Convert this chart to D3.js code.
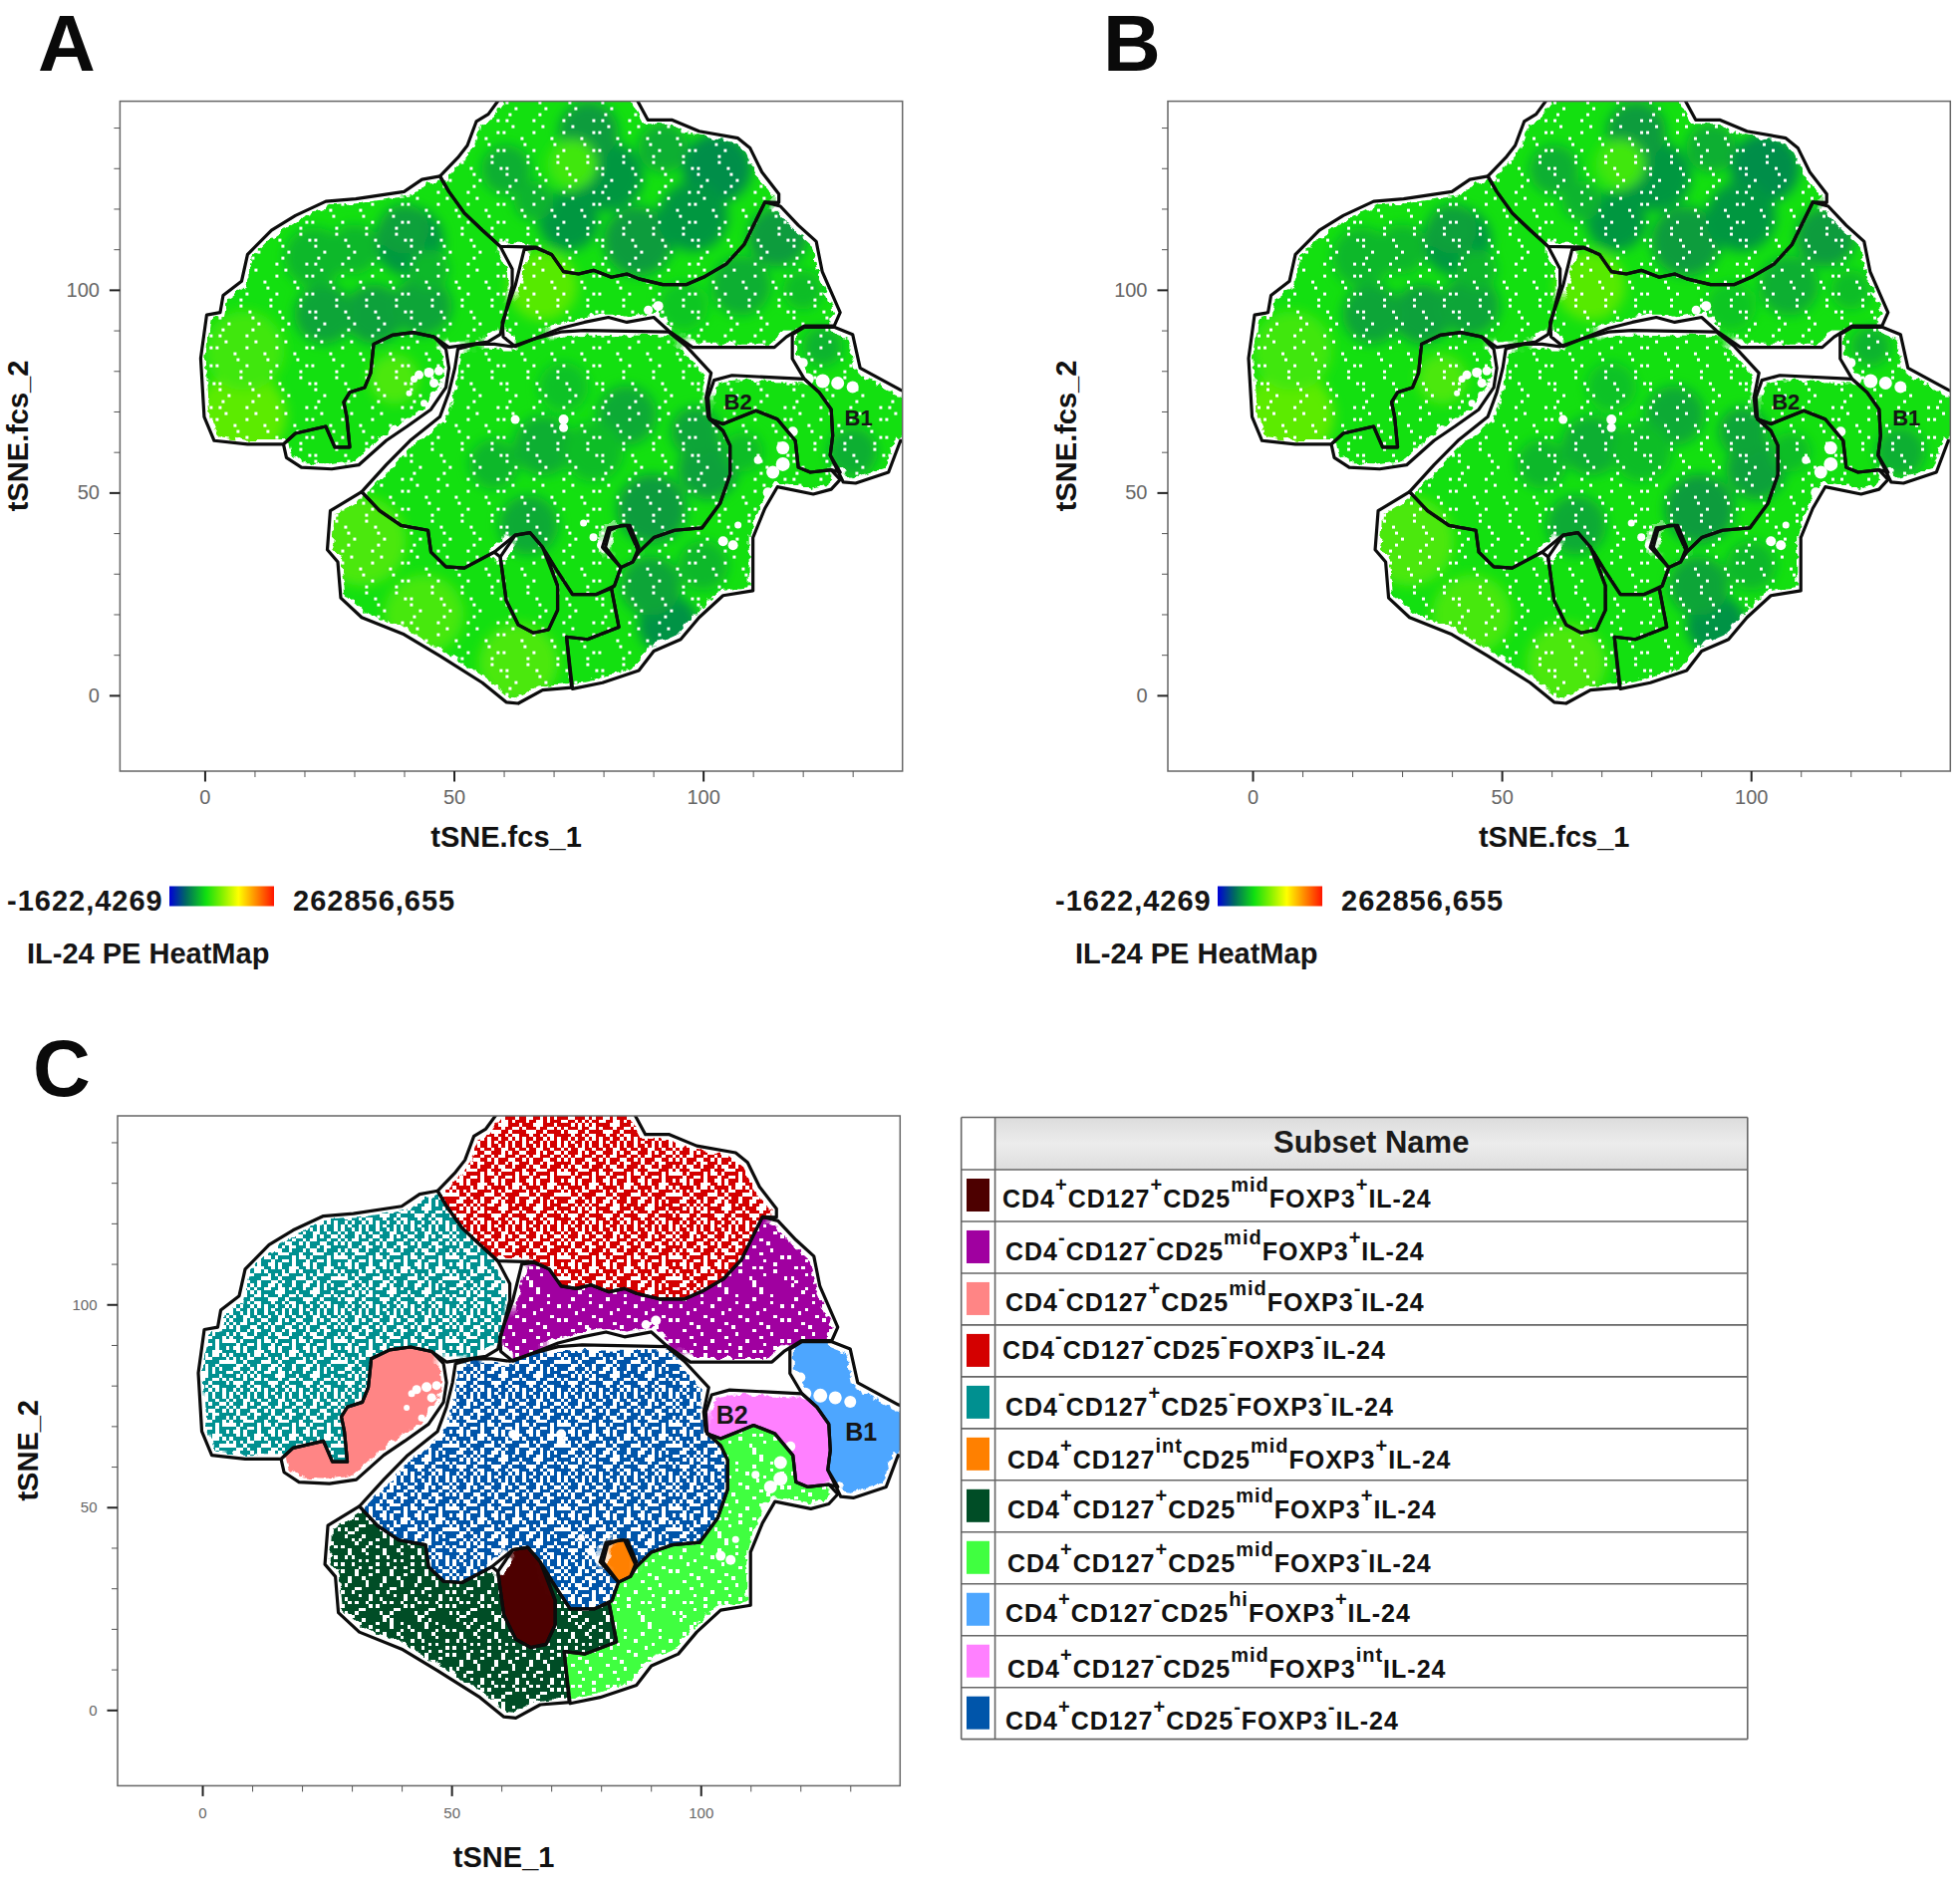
<!DOCTYPE html>
<html>
<head>
<meta charset="utf-8">
<script src="https://d3js.org/d3.v7.min.js"></script>
<style>
  html, body { margin: 0; padding: 0; background: #fff; }
  text { font-family: "Liberation Sans", Arial, sans-serif; }
</style>
</head>
<body>
<svg id="target" width="1967" height="1892"></svg>
<script>
// gate outlines, tSNE units
var gateRed = [[47.2,128],[50.8,132.6],[52.7,135.6],[54.5,141.5],[56.9,143.3],[60,148.5],[86,148.5],[88.9,141.9],[93.7,141.9],[99.2,139.1],[107,137.4],[109.4,135],[111.8,129],[115.2,123.6],[115.2,121.5],[112.4,121.6],[110.6,117.1],[108.2,111.1],[104.6,106.3],[100.4,103.3],[96.7,101.3],[91.9,101.3],[87.1,102.7],[84.7,103.9],[81.6,103.1],[78,104.8],[75,103.9],[72,104.5],[69.6,108.7],[66.5,110.5],[59.3,110.7],[55.7,114.7],[52.1,118.9],[49,124.2]];
var gatePurple = [[64.1,109.9],[66.5,110.3],[69.6,108.7],[72,104.5],[75,103.9],[78,104.8],[81.6,103.1],[84.7,103.9],[87.1,102.7],[91.9,101.3],[96.7,101.3],[100.4,103.3],[104.6,106.3],[108.2,111.1],[110.6,117.1],[112.4,121.6],[115.5,120.6],[119.1,115.9],[122.7,111.9],[123.9,104.5],[127.5,94.4],[126.3,91.1],[120.3,91.1],[116.7,88.4],[114.3,85.8],[97.9,85.8],[93.1,89.9],[90.1,93.2],[84.7,92],[81,93.2],[76.2,92],[71.4,90.5],[65.9,87.8],[62.3,86],[59.9,88.4],[59.7,92],[62.3,101]];
var gateTeal = [[47.2,128],[43.6,127.2],[40,124.2],[30.3,122.4],[24.3,121.8],[18.2,118.3],[13.4,114.7],[8.6,108.7],[7.4,102.1],[3.7,98.6],[3.1,94.4],[0.4,93.8],[-0.8,83.1],[-0.1,68.7],[1.9,62.8],[8.6,61.9],[15.8,61.9],[18.2,64.6],[24.3,66.3],[26.1,61.2],[29.1,61.2],[28.5,68.7],[27.9,72.3],[29.1,74.7],[32.1,75.9],[33.3,79.5],[33.9,86.6],[37.6,88.8],[41.8,89.5],[46,88.4],[49,85.8],[56.9,87.2],[59.3,89],[61.7,101],[61.7,105.1],[59.3,110.7],[55.7,114.7],[52.1,118.9],[49,124.2]];
var gateSalmon = [[33.9,86.6],[37.6,88.8],[41.8,89.5],[46,88.4],[48.4,85.4],[49,80.7],[48.4,75.9],[45.4,70.5],[40.6,66.3],[36.4,62.8],[30.9,56.8],[25.5,55.8],[19.4,56.2],[16.4,58.6],[15.8,61.9],[18.2,64.6],[24.3,66.3],[26.1,61.2],[29.1,61.2],[28.5,68.7],[27.9,72.3],[29.1,74.7],[32.1,75.9],[33.3,79.5]];
var gateBlue = [[50.8,85.4],[54.5,86.6],[58.1,86.6],[61.7,86],[65.9,87.8],[71.4,89.6],[76.2,90],[93.1,89.6],[96.7,86],[101.6,79.5],[100.6,73.5],[101,68.7],[104,65.2],[105.4,61.6],[105.4,54.4],[103.4,47.3],[99.8,41.3],[94.3,40.7],[90.1,38.9],[87.1,35.3],[84.7,41.9],[81,41.3],[79.8,36.5],[83.5,31.5],[82.2,27],[78.6,24.9],[73.8,24.9],[70.8,30.5],[67.8,36.5],[65.3,40.1],[62.3,39.5],[58.1,35.3],[52.1,31.4],[48.4,31.7],[45.4,35.3],[44.8,40.7],[39.4,41.9],[35.1,45.5],[31.5,50.2],[36.4,56.8],[41.2,62.8],[47.2,68.7],[49,74.7],[50.2,80.7]];
var gateOrange = [[83.5,41.9],[85.3,41.9],[87.1,36.5],[85.9,32.9],[83.5,31.5],[80.4,36.5],[81.3,40.7]];
var gateMaroon = [[65.3,40.1],[67.8,36.5],[70.8,27],[70.8,21],[69,16.2],[65.9,15.4],[62.9,17.4],[60.5,23.4],[59.3,34.1],[62.3,39.5]];
var gateDarkGreen = [[31.5,50.2],[35.1,45.5],[39.4,41.9],[44.8,40.7],[45.4,35.3],[48.4,31.7],[52.1,31.4],[58.1,35.3],[59.3,34.1],[60.5,23.4],[62.9,17.4],[65.9,15.4],[69,16.2],[70.8,21],[70.8,27],[68.4,35.3],[70.8,30.5],[73.8,24.9],[78.6,24.9],[81.6,26.4],[83.1,16.8],[76.8,13.8],[72.6,14.4],[73.6,1.9],[67.8,1.3],[62.9,-2],[60.5,-1.7],[55.7,3.1],[47.2,9.7],[40,15],[31.5,19.2],[27.3,24],[26.7,32.9],[24.6,35.9],[25.2,45.5]];
var gateLightGreen = [[81.6,26.4],[82.2,27],[83.5,31.5],[85.9,32.9],[87.1,35.3],[90.1,38.9],[94.3,40.7],[99.8,41.3],[103.4,47.3],[105.4,54.4],[105.4,61.6],[104,65.2],[101.3,68.1],[104,66.9],[107.6,68.7],[110.6,70.2],[114.9,68.1],[118.5,62.8],[119.1,56.2],[121.5,55],[125.7,55.6],[127.5,53.2],[125.7,50.8],[122.1,49.6],[114.9,51.4],[112.4,46.1],[110,38.9],[110,25.8],[104,24.6],[99.2,19.2],[95.5,13.8],[90.1,10.9],[87.1,6.1],[79.8,3.1],[73.8,1.6],[72.6,14.4],[76.8,13.8],[83.1,16.8]];
var gatePink = [[101,73.5],[102.2,77.7],[105.8,78.9],[120.3,78],[123.3,74.7],[125.7,70.5],[126,64],[125.5,59.2],[127.5,55],[125.7,55.6],[121.5,55],[119.1,56.2],[118.5,62.8],[114.9,68.1],[110.6,70.2],[107.6,68.7],[104,66.9],[101.3,68.1]];
var gateSky = [[117.9,89],[120.3,90.8],[126.3,90.8],[130,89],[131.5,80.7],[139.6,75.3],[144,73],[144,61],[139.6,62.8],[137.2,55],[130.6,52.3],[128.1,52.6],[125.5,59.2],[126,64],[125.7,70.5],[123.3,74.7],[120.3,78],[117.9,83]];

// table rows, top to bottom: name / superscript pairs
var subsetNames = [
  ['CD4','+','CD127','+','CD25','mid','FOXP3','+','IL-24'],
  ['CD4','-','CD127','-','CD25','mid','FOXP3','+','IL-24'],
  ['CD4','-','CD127','+','CD25','mid','FOXP3','-','IL-24'],
  ['CD4','-','CD127','-','CD25','-','FOXP3','-','IL-24'],
  ['CD4','-','CD127','+','CD25','-','FOXP3','-','IL-24'],
  ['CD4','+','CD127','int','CD25','mid','FOXP3','+','IL-24'],
  ['CD4','+','CD127','+','CD25','mid','FOXP3','+','IL-24'],
  ['CD4','+','CD127','+','CD25','mid','FOXP3','-','IL-24'],
  ['CD4','+','CD127','-','CD25','hi','FOXP3','+','IL-24'],
  ['CD4','+','CD127','-','CD25','mid','FOXP3','int','IL-24'],
  ['CD4','+','CD127','+','CD25','-','FOXP3','-','IL-24']
];
var subsetColors = ['#4d0000','#a000a0','#ff8585','#d40000','#009090','#ff8000','#004d26','#40ff40','#4da6ff','#ff80ff','#0055aa'];
var subsetGates = [gateMaroon, gatePurple, gateSalmon, gateRed, gateTeal, gateOrange, gateDarkGreen, gateLightGreen, gateSky, gatePink, gateBlue];
var subsetSpeckle = [0, 1, 0, 4, 4, 0, 2, 1, 0, 0, 4]; // how many digits of the tile count as empty

var rowTextX = [1006, 1009, 1009, 1006, 1009, 1011, 1011, 1011, 1009, 1011, 1009];
var rowTextLift = [13.5, 12.7, 13.5, 17.8, 12.7, 11.4, 13.5, 11.9, 14, 10.2, 9.7];

var xMajor = [0, 50, 100];
var xMinor = [10, 20, 30, 40, 60, 70, 80, 90, 110, 120, 130];
var yMajor = [0, 50, 100];
var yMinor = [10, 20, 30, 40, 60, 70, 80, 90, 110, 120, 130, 140];

// IL-24 heat map: legend and the patches seen on the plot (x, y, radius, value)
var heatMin = -1622.4269;
var heatMax = 262856.655;
var heatMinLabel = '-1622,4269';
var heatMaxLabel = '262856,655';
var heatStops = [0, 0.16, 0.35, 0.5, 0.66, 0.82, 1];
var heatColors = ['#0000d8','#006a60','#10e010','#80f000','#ffff00','#ff9000','#ff1500'];
var heatBase = 92000;
var heatPatches = [
  [81,128,7,60000],[77,139,6,62000],[102.8,130,7,56000],[73,117,6,60000],[87,112,7,62000],[98,118,7,60000],[60.5,129.6,5,70000],[92,135,5,70000],[66,122,4,72000],
  [41,112,7,60000],[34,94,6,64000],[24,94,6,66000],[40,115,5,64000],[43.6,96,6,66000],[22,108,6,74000],[30,110,5,74000],[45,105,4,74000],
  [115,113,6,62000],[107.6,101,6,70000],[96,96,5,80000],[120,100,4,76000],
  [84.7,69,6,68000],[68,61.6,6,70000],[101,55.6,6,64000],[89.7,46,7,62000],[65,42,6,68000],[98.5,65,5,66000],[58,57,5,74000],[78,60,6,76000],[72,76,5,78000],
  [93,17.4,6,58000],[89.5,27,6,66000],[100,32,5,74000],[108,60,4,76000],[130,60,5,70000],[124,86,4,72000],
  [7.4,69,9,118000],[31.5,38,9,112000],[63,8,8,112000],[67.8,101,7,116000],[73.8,131,5,108000],[8,85,8,108000],[44,20,8,110000],[38,78,5,112000]
];
// white holes in the data (x, y, radius)
var holes = [
  [43,79,0.9],[45,79.6,1],[47,80,0.9],[49,79,0.9],[42,78,0.7],[46,77,0.9],[44,72,0.7],[46,74,0.8],[41,74.5,0.6],
  [62.3,68,0.9],[72,68,1],[72,66,0.9],[76,42.5,0.7],[78,39,0.8],[79.5,37,0.8],[104,38,1],[106,37,1],[107,42,0.7],
  [121,78,1.2],[124,77.5,1.4],[127,77,1.3],[130,76,1.2],[116,61,1.3],[116,57,1.4],[114,55,1.3],[113,50,1],[118,65,1],
  [91,96,1],[89,95,0.9],[120,82,1],[111,58,0.8]
];

var labelsAB = [['B2',107,72.5],['B1',131.2,68.5]];
var labelsC = [['B2',106.3,72.6],['B1',132.2,68.3]];

// speckle tile, one digit per cell
var tile = [
  '70394816258307149625830471926358',
  '25816093471285036194728503619482',
  '94360728159463027581946302758194',
  '18572940361857294036185729403618',
  '63029518476302951847630295184763',
  '47185360297418536029741853602974',
  '80916427350891642735089164273508',
  '35274091863527409186352740918635',
  '19608352741960835274196083527419',
  '72453186097245318609724531860972',
  '06841729530684172953068417295306',
  '53920674185392067418539206741853',
  '28176403952817640395281764039528',
  '64095381276409538127640953812764',
  '91532760849153276084915327608491',
  '37860129453786012945378601294537',
  '02718956340271895634027189563402',
  '86345027198634502719863450271986',
  '41293678054129367805412936780541',
  '75060841327506084132750608413275',
  '19487352061948735206194873520619',
  '52639014785263901478526390147852',
  '30871465923087146592308714659230',
  '84015297368401529736840152973684'
];

var cell = 3.5;
var panelW = 785.3;
var panelH = 672.4;

var svg = d3.select('#target');
var defs = svg.append('defs');

// frayed inner edge of the population
var fray = defs.append('filter').attr('id', 'fray')
  .attr('x', '-5%').attr('y', '-5%').attr('width', '110%').attr('height', '110%');
fray.append('feMorphology').attr('in', 'SourceGraphic').attr('operator', 'erode').attr('radius', 5).attr('result', 'thin');
fray.append('feTurbulence').attr('type', 'fractalNoise').attr('baseFrequency', 0.13).attr('numOctaves', 2).attr('seed', 4).attr('result', 'noise');
fray.append('feDisplacementMap').attr('in', 'thin').attr('in2', 'noise').attr('scale', 9).attr('xChannelSelector', 'R').attr('yChannelSelector', 'G');

defs.append('filter').attr('id', 'soft')
  .attr('x', '-60%').attr('y', '-60%').attr('width', '220%').attr('height', '220%')
  .append('feGaussianBlur').attr('stdDeviation', 6);

// one pattern per speckle level
[1, 2, 4].forEach(function (level) {
  var cells = [];
  tile.forEach(function (row, r) {
    row.split('').forEach(function (ch, c) {
      if (+ch < level) cells.push([c, r]);
    });
  });
  defs.append('pattern').attr('id', 'speckle' + level)
    .attr('patternUnits', 'userSpaceOnUse')
    .attr('width', tile[0].length * cell).attr('height', tile.length * cell)
    .selectAll('rect').data(cells).join('rect')
    .attr('x', d => d[0] * cell).attr('y', d => d[1] * cell)
    .attr('width', cell).attr('height', cell)
    .attr('fill', '#fff').attr('shape-rendering', 'crispEdges');
});

// sparse white specks for the heat map
var sparse = [];
tile.forEach(function (row, r) {
  row.split('').forEach(function (ch, c) {
    if (ch === '0' && r % 2 === 0) sparse.push([c, r]);
  });
});
defs.append('pattern').attr('id', 'heatSpeckle')
  .attr('patternUnits', 'userSpaceOnUse')
  .attr('width', tile[0].length * 3).attr('height', tile.length * 3)
  .selectAll('rect').data(sparse).join('rect')
  .attr('x', d => d[0] * 3).attr('y', d => d[1] * 3)
  .attr('width', 3).attr('height', 3).attr('fill', '#fff').attr('shape-rendering', 'crispEdges');

var header = defs.append('linearGradient').attr('id', 'headerFill').attr('x1', 0).attr('x2', 0).attr('y1', 0).attr('y2', 1);
header.append('stop').attr('offset', 0).attr('stop-color', '#dcdcdc');
header.append('stop').attr('offset', 0.5).attr('stop-color', '#ececec');
header.append('stop').attr('offset', 1).attr('stop-color', '#dedede');

var heatT = d3.scaleLinear().domain([heatMin, heatMax]).range([0, 1]);
var heatColor = d3.scaleLinear().domain(heatStops).range(heatColors);

var legend = defs.append('linearGradient').attr('id', 'heatLegend').attr('x1', 0).attr('x2', 1).attr('y1', 0).attr('y2', 0);
heatStops.forEach(function (s, i) {
  legend.append('stop').attr('offset', s).attr('stop-color', heatColors[i]);
});

function draw_panel(id, left, top, opts) {
  var mapX = d3.scaleLinear().domain([-17, 140]).range([0, panelW]);
  var mapY = d3.scaleLinear().domain([-18.7, 146.5]).range([panelH, 0]);
  var line = d3.line().x(d => mapX(d[0])).y(d => mapY(d[1])).curve(d3.curveLinearClosed);

  var g = svg.append('g').attr('transform', `translate(${left}, ${top})`);

  defs.append('clipPath').attr('id', id + '-clip')
    .append('rect').attr('width', panelW).attr('height', panelH);

  var mask = defs.append('mask').attr('id', id + '-mask')
    .attr('maskUnits', 'userSpaceOnUse')
    .attr('x', -20).attr('y', -20).attr('width', panelW + 60).attr('height', panelH + 60);
  mask.append('g').attr('filter', 'url(#fray)')
    .selectAll('path').data(subsetGates).join('path')
    .attr('d', line).attr('fill', '#fff').attr('stroke', '#fff').attr('stroke-width', 2);

  var plot = g.append('g').attr('clip-path', `url(#${id}-clip)`);
  var body = plot.append('g').attr('mask', `url(#${id}-mask)`);

  if (opts.heat) {
    body.append('rect').attr('width', panelW).attr('height', panelH).attr('fill', heatColor(heatT(heatBase)));
    body.append('g').attr('filter', 'url(#soft)')
      .selectAll('circle').data(heatPatches).join('circle')
      .attr('cx', d => mapX(d[0])).attr('cy', d => mapY(d[1]))
      .attr('r', d => mapX(d[2]) - mapX(0))
      .attr('fill', d => heatColor(heatT(d[3])));
    body.append('rect').attr('width', panelW).attr('height', panelH).attr('fill', 'url(#heatSpeckle)');
  } else {
    subsetGates.forEach(function (gate, i) {
      body.append('path').attr('d', line(gate)).attr('fill', subsetColors[i]);
      if (subsetSpeckle[i] > 0) {
        body.append('path').attr('d', line(gate)).attr('fill', `url(#speckle${subsetSpeckle[i]})`);
      }
    });
  }

  var holeGroup = opts.heat ? body : body.append('g').attr('opacity', 1);
  holeGroup.selectAll('circle.hole').data(holes).join('circle')
    .attr('class', 'hole')
    .attr('cx', d => mapX(d[0])).attr('cy', d => mapY(d[1]))
    .attr('r', d => mapX(d[2]) - mapX(0))
    .attr('fill', '#fff');

  plot.selectAll('path.gate').data(subsetGates).join('path')
    .attr('class', 'gate')
    .attr('d', line)
    .attr('fill', 'none')
    .attr('stroke', '#0c0c0c')
    .attr('stroke-width', 3.2)
    .attr('stroke-linejoin', 'round');

  plot.selectAll('text.gatename').data(opts.labels).join('text')
    .attr('class', 'gatename')
    .attr('x', d => mapX(d[1])).attr('y', d => mapY(d[2]) + 8)
    .attr('text-anchor', 'middle')
    .attr('font-size', opts.heat ? 22 : 25)
    .attr('fill', '#161616')
    .attr('font-weight', 'bold')
    .text(d => d[0]);

  g.append('rect').attr('width', panelW).attr('height', panelH)
    .attr('fill', 'none').attr('stroke', '#666').attr('stroke-width', 1.5);

  // axes
  var xAxis = g.append('g').attr('transform', `translate(0, ${panelH})`)
    .call(d3.axisBottom(mapX).tickValues(xMajor).tickSize(10.5).tickPadding(opts.tickPad));
  var xAxisMinor = g.append('g').attr('transform', `translate(0, ${panelH})`)
    .call(d3.axisBottom(mapX).tickValues(xMinor).tickSize(6).tickFormat(''));
  var yAxis = g.append('g')
    .call(d3.axisLeft(mapY).tickValues(yMajor).tickSize(10.5).tickPadding(opts.tickPadY));
  var yAxisMinor = g.append('g')
    .call(d3.axisLeft(mapY).tickValues(yMinor).tickSize(6).tickFormat(''));
  [xAxis, xAxisMinor, yAxis, yAxisMinor].forEach(function (a) {
    a.select('.domain').remove();
  });
  [xAxis, yAxis].forEach(function (a) {
    a.selectAll('line').attr('stroke', '#222').attr('stroke-width', 2);
    a.selectAll('text')
      .attr('font-family', '"Liberation Sans", Arial, sans-serif')
      .attr('font-size', opts.tickSize)
      .attr('fill', '#666');
  });
  [xAxisMinor, yAxisMinor].forEach(function (a) {
    a.selectAll('line').attr('stroke', '#555').attr('stroke-width', 1);
  });

  // axis names
  g.append('text')
    .attr('x', mapX(60.5)).attr('y', panelH + opts.xNameY)
    .attr('text-anchor', 'middle').attr('font-size', 29).attr('font-weight', 'bold').attr('fill', '#111')
    .text(opts.xName);
  g.append('text')
    .attr('transform', `translate(${opts.yNameX}, ${mapY(64)}) rotate(-90)`)
    .attr('text-anchor', 'middle').attr('font-size', 29).attr('font-weight', 'bold').attr('fill', '#111')
    .text(opts.yName);
}

function draw_legend(dx) {
  var g = svg.append('g').attr('transform', `translate(${dx}, 0)`);
  g.append('text').attr('x', 7).attr('y', 914)
    .attr('font-size', 29).attr('font-weight', 'bold').attr('letter-spacing', 1).attr('fill', '#151515')
    .text(heatMinLabel);
  g.append('rect').attr('x', 170).attr('y', 889.5).attr('width', 105).attr('height', 20)
    .attr('fill', 'url(#heatLegend)');
  g.append('text').attr('x', 294).attr('y', 914)
    .attr('font-size', 29).attr('font-weight', 'bold').attr('letter-spacing', 1).attr('fill', '#151515')
    .text(heatMaxLabel);
  g.append('text').attr('x', 27).attr('y', 967)
    .attr('font-size', 29).attr('font-weight', 'bold').attr('fill', '#151515')
    .text('IL-24 PE HeatMap');
}

function draw_table() {
  var x0 = 964.7, x1 = 998.6, x2 = 1753.8;
  var y0 = 1121.5, y1 = 1174, rowH = 51.97;
  var rows = subsetNames.length;
  var g = svg.append('g');

  g.append('rect').attr('x', x1).attr('y', y0).attr('width', x2 - x1).attr('height', y1 - y0)
    .attr('fill', 'url(#headerFill)');
  g.append('text').attr('x', (x1 + x2) / 2).attr('y', 1157)
    .attr('text-anchor', 'middle').attr('font-size', 31).attr('font-weight', 'bold').attr('fill', '#1a1a1a')
    .text('Subset Name');

  g.selectAll('rect.swatch').data(subsetColors).join('rect')
    .attr('class', 'swatch')
    .attr('x', 970).attr('y', (d, i) => y1 + i * rowH + 9)
    .attr('width', 23).attr('height', 33)
    .attr('fill', d => d);

  var rowText = g.selectAll('text.row').data(subsetNames).join('text')
    .attr('class', 'row')
    .attr('x', (d, i) => rowTextX[i])
    .attr('y', (d, i) => y1 + (i + 1) * rowH - rowTextLift[i])
    .attr('font-weight', 'bold')
    .attr('fill', '#111');
  rowText.selectAll('tspan').data(d => d).join('tspan')
    .attr('font-size', (d, i) => i % 2 ? 20 : 25)
    .attr('letter-spacing', 1)
    .attr('dy', (d, i) => i === 0 ? 0 : (i % 2 ? -16 : 16))
    .text(d => d);

  // grid
  var hLines = [y0, y1].concat(d3.range(1, rows + 1).map(i => y1 + i * rowH));
  g.selectAll('line.h').data(hLines).join('line').attr('class', 'h')
    .attr('x1', x0).attr('x2', x2).attr('y1', d => d).attr('y2', d => d)
    .attr('stroke', '#666').attr('stroke-width', 1.6);
  g.selectAll('line.v').data([x0, x1, x2]).join('line').attr('class', 'v')
    .attr('x1', d => d).attr('x2', d => d).attr('y1', y0).attr('y2', hLines[hLines.length - 1])
    .attr('stroke', '#666').attr('stroke-width', 1.6);
}

function panel_letter(t, x, y) {
  svg.append('text').attr('x', x).attr('y', y)
    .attr('font-size', 80).attr('font-weight', 'bold').attr('fill', '#0a0a0a')
    .text(t);
}

draw_panel('a', 120.4, 101.6, {heat: true, labels: labelsAB, tickSize: 20, tickPad: 8, tickPadY: 10, xName: 'tSNE.fcs_1', xNameY: 76, yName: 'tSNE.fcs_2', yNameX: -92});
draw_panel('b', 1172, 101.6, {heat: true, labels: labelsAB, tickSize: 20, tickPad: 8, tickPadY: 10, xName: 'tSNE.fcs_1', xNameY: 76, yName: 'tSNE.fcs_2', yNameX: -92});
draw_panel('c', 118, 1120, {heat: false, labels: labelsC, tickSize: 15, tickPad: 11, tickPadY: 10, xName: 'tSNE_1', xNameY: 82, yName: 'tSNE_2', yNameX: -80});

draw_legend(0);
draw_legend(1052);
draw_table();

panel_letter('A', 38, 71);
panel_letter('B', 1107, 71);
panel_letter('C', 33, 1100);
</script>
</body>
</html>
